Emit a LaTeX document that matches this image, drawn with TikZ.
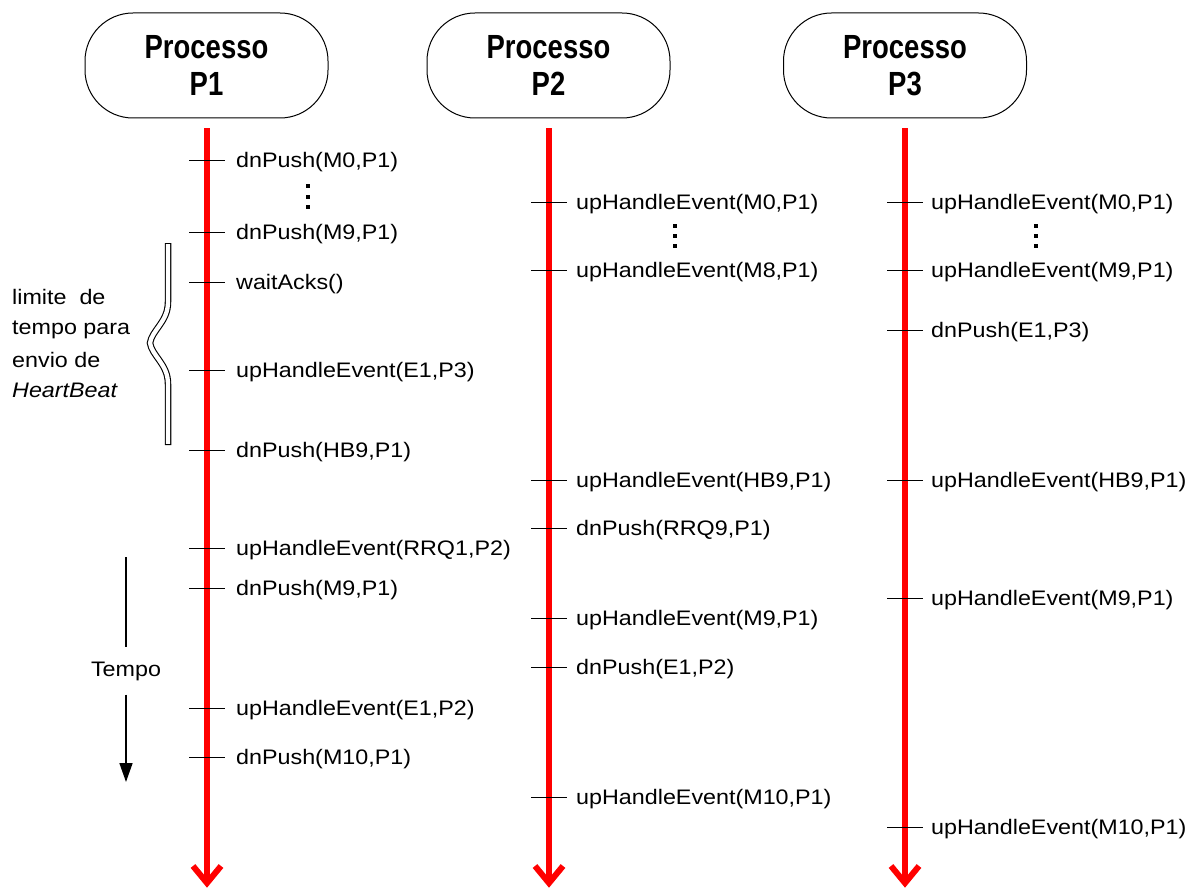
\documentclass[tikz,border=0pt]{standalone}
\usepackage{fontspec}
\setmainfont{Liberation Sans}
\newfontfamily\lblfont[FakeStretch=1.11]{Liberation Sans}
\newfontfamily\hdrfont[FakeStretch=0.82]{Liberation Sans}
\usetikzlibrary{arrows.meta,calc}
\definecolor{lifered}{RGB}{255,0,0}
\begin{document}
\begin{tikzpicture}[x=1pt,y=-1pt,
  proc/.style={draw, line width=1pt, rounded corners=48pt, minimum width=243pt,
    minimum height=105pt, align=center, inner sep=0pt,
    font=\hdrfont\bfseries\fontsize{33.5}{37}\selectfont},
  life/.style={draw=lifered, line width=6.5pt},
  lifehead/.style={draw=lifered, line width=6pt, line join=miter},
  tickmark/.style={draw=black, line width=1pt},
  lbl/.style={anchor=base west, inner sep=0pt, font=\lblfont\fontsize{21}{25}\selectfont},
  vdot/.style={fill=black, minimum width=4pt, minimum height=4.5pt, inner sep=0pt},
  braceout/.style={draw=black, line width=6.5pt},
  bracein/.style={draw=white, line width=4.3pt, shorten <=1.1pt, shorten >=1.1pt},
  tempoarrow/.style={draw=black, line width=1.6pt}]
\useasboundingbox (0,0) rectangle (1188,888);

% process headers and lifelines
\foreach \n/\x/\hx in {1/207/206.5, 2/549/548.5, 3/905/905} {
  \node[proc] (h\n) at (\hx,65.5) {Processo\\P\n};
  \coordinate (e\n) at (\x,883);
  \draw[life, shorten <=10pt] (h\n.south -| e\n) -- (e\n);
  \draw[lifehead] ($(e\n)+(-14,-17)$) -- (e\n) -- ($(e\n)+(14,-17)$);
}

% P1 events
\foreach \y/\t [count=\i] in {160/{dnPush(M0,P1)}, 232/{dnPush(M9,P1)}, 282/{waitAcks()},
    370/{upHandleEvent(E1,P3)}, 450/{dnPush(HB9,P1)}, 548/{upHandleEvent(RRQ1,P2)},
    588/{dnPush(M9,P1)}, 708/{upHandleEvent(E1,P2)}, 757/{dnPush(M10,P1)}} {
  \draw[tickmark] (189,\y) -- (225,\y);
  \node[lbl] (a\i) at (236,\y+7) {\t};
}
% P2 events
\foreach \y/\t [count=\i] in {202/{upHandleEvent(M0,P1)}, 270/{upHandleEvent(M8,P1)},
    480/{upHandleEvent(HB9,P1)}, 528/{dnPush(RRQ9,P1)}, 618/{upHandleEvent(M9,P1)},
    667/{dnPush(E1,P2)}, 797/{upHandleEvent(M10,P1)}} {
  \draw[tickmark] (531,\y) -- (567,\y);
  \node[lbl] (b\i) at (576,\y+7) {\t};
}
% P3 events
\foreach \y/\t [count=\i] in {202/{upHandleEvent(M0,P1)}, 270/{upHandleEvent(M9,P1)},
    330/{dnPush(E1,P3)}, 480/{upHandleEvent(HB9,P1)}, 598/{upHandleEvent(M9,P1)},
    827/{upHandleEvent(M10,P1)}} {
  \draw[tickmark] (887,\y) -- (923,\y);
  \node[lbl] (c\i) at (931,\y+7) {\t};
}

% vertical ellipses
\foreach \y [count=\i] in {186,197,207} { \node[vdot] (da\i) at (308,\y) {}; }
\foreach \y [count=\i] in {226,236,246} { \node[vdot] (db\i) at (675,\y) {}; }
\foreach \y [count=\i] in {226,236,246} { \node[vdot] (dc\i) at (1036,\y) {}; }

% brace
\def\bracepath{(168,243) -- (168,302) .. controls (168,322) and (152,330) .. (150,343)
  .. controls (152,356) and (168,364) .. (168,384) -- (168,445)}
\draw[braceout] \bracepath;
\draw[bracein] \bracepath;

% brace text
\node[lbl] (t1) at (12,304) {limite~~de};
\node[lbl] (t2) at (12,334) {tempo para};
\node[lbl] (t3) at (12,367) {envio de};
\node[lbl] (t4) at (12,397) {\itshape HeartBeat};

% tempo arrow
\node[font=\lblfont\fontsize{21}{25}\selectfont, inner xsep=0pt, inner ysep=14pt] (tempo) at (126,671) {Tempo};
\coordinate (ttop) at (126,557);
\coordinate (tend) at (126,782);
\draw[tempoarrow] (ttop) -- (tempo.north);
\draw[tempoarrow, -{Triangle[length=19pt,width=13pt]}] (tempo.south) -- (tend);
\end{tikzpicture}
\end{document}
